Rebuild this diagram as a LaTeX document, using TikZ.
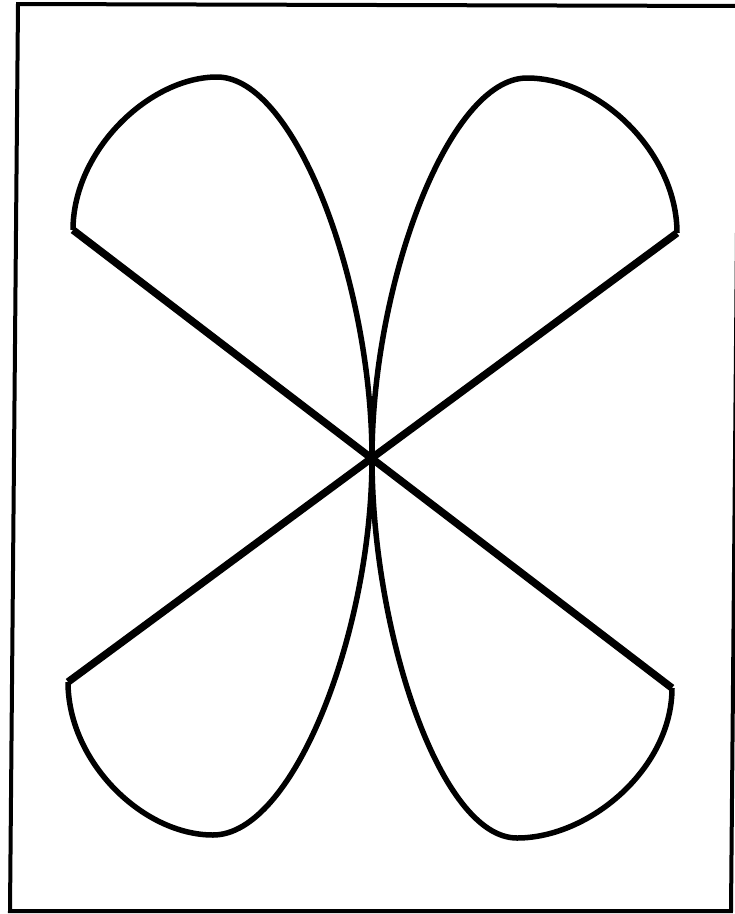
\documentclass[tikz,border=0pt]{standalone}
\begin{document}
\begin{tikzpicture}[x=1pt,y=-1pt,
  frame/.style={line width=4pt},
  spoke/.style={line width=7.5pt},
  petal/.style={line width=5.5pt, line join=round}]
\useasboundingbox (0,0) rectangle (735,914);
\clip (0,0) rectangle (735,914);
\draw[frame] (18,4) -- (739,6) -- (731,911) -- (10,911) -- cycle;
\coordinate (c) at (372,458);
\coordinate (tl) at (73,230);
\coordinate (tr) at (677,233);
\coordinate (bl) at (68,682);
\coordinate (br) at (672,688);
\coordinate (tlt) at (217,77);
\coordinate (trt) at (527,78);
\coordinate (blb) at (213,835);
\coordinate (brb) at (517,838);
\draw[spoke] (tl) -- (br);
\draw[spoke] (tr) -- (bl);
\draw[petal] (tl) .. controls (73,150) and (150,77) .. (tlt)
  .. controls (296,77) and (372,285) .. (c);
\draw[petal] (tr) .. controls (677,153) and (600,78) .. (trt)
  .. controls (448,78) and (372,285) .. (c);
\draw[petal] (bl) .. controls (68,762) and (143,835) .. (blb)
  .. controls (294,835) and (372,631) .. (c);
\draw[petal] (br) .. controls (672,768) and (590,838) .. (brb)
  .. controls (440,838) and (372,631) .. (c);
\end{tikzpicture}
\end{document}
